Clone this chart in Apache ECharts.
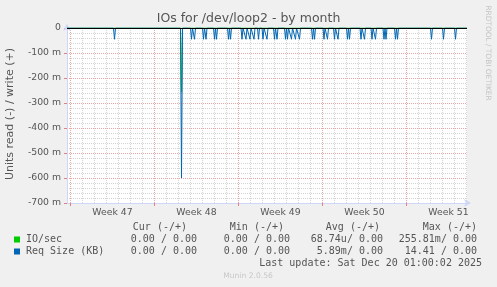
<!DOCTYPE html>
<html>
<head>
<meta charset="utf-8">
<script src="https://cdn.jsdelivr.net/npm/echarts@6/dist/echarts.min.js"></script>
<style>html,body{margin:0;padding:0;background:#f0f0f0;}#c{width:497px;height:287px;}</style>
</head>
<body>
<div id="c"></div>
<script>
// Time axis: hours since Mon 17 Nov 2025 00:00 (start of ISO week 47)
const xMinHour = -7;
const xMaxHour = 793;
const weekStartHours = [0, 168, 336, 504, 672];
const weekLabelHours = [84, 252, 420, 588, 756];
const weekLabels = ['Week 47', 'Week 48', 'Week 49', 'Week 50', 'Week 51'];
const dayHours = [0, 24, 48, 72, 96, 120, 144, 168, 192, 216, 240, 264, 288, 312, 336, 360, 384, 408, 432, 456, 480, 504, 528, 552, 576, 600, 624, 648, 672, 696, 720, 744, 768, 792];
const yTickValues = [0, -100, -200, -300, -400, -500, -600, -700];
const yTickLabels = ['0', '-100 m', '-200 m', '-300 m', '-400 m', '-500 m', '-600 m', '-700 m'];

// Req Size (KB), read side (negative), in milli-units, spikes at hours
const reqSizeSpikeHours = [88, 222, 242, 248, 266, 271, 288, 292, 316, 320, 343, 351, 359, 367, 376, 385, 393, 408, 413, 430, 434, 442, 450, 458, 484, 488, 507, 514, 528, 535, 554, 558, 581, 588, 603, 610, 627, 631, 650, 654, 722, 746, 770];
const reqSizeSpikeValues = [-45, -600, -45, -45, -45, -45, -45, -45, -45, -45, -45, -45, -45, -45, -45, -45, -45, -45, -45, -45, -45, -45, -45, -45, -45, -45, -45, -45, -45, -45, -45, -45, -45, -45, -45, -45, -45, -45, -45, -45, -45, -45, -45];
// IO/sec read side, milli-units
const ioSpikeHours = [222];
const ioSpikeValues = [-256];
const sampleStep = 2; // hours per sample

// legend table
const legendNames = ['IO/sec', 'Req Size (KB)'];
const legendColors = ['#00cc00', '#0066b3'];
const legendHeaders = ['Cur (-/+)', 'Min (-/+)', 'Avg (-/+)', 'Max (-/+)'];
const legendCur = ['0.00 / 0.00', '0.00 / 0.00'];
const legendMin = ['0.00 / 0.00', '0.00 / 0.00'];
const legendAvg = ['68.74u/ 0.00', '5.89m/ 0.00'];
const legendMax = ['255.81m/ 0.00', '14.41 / 0.00'];

function buildSeries(hours, values) {
  const pts = {};
  pts[xMinHour] = 0; pts[xMaxHour] = 0;
  hours.forEach((h, i) => {
    if (!(h - sampleStep in pts)) pts[h - sampleStep] = 0;
    if (!(h + sampleStep in pts)) pts[h + sampleStep] = 0;
  });
  hours.forEach((h, i) => { pts[h] = values[i]; });
  return Object.keys(pts).map(Number).sort((a, b) => a - b).map(k => [k, pts[k]]);
}

const chart = echarts.init(document.getElementById('c'), null, {renderer: 'canvas'});
const mono = 'DejaVu Sans Mono';
const sans = 'DejaVu Sans';
const txtColor = '#555';
const axisColor = '#cfd6f8';
const majorGrid = '#e8a8a8';
const minorGrid = '#d4d4d4';

const colRight = [197, 290, 383, 477];
const hdrRight = [187, 284, 380, 477];
const rowY = [239.5, 251.5];
const graphics = [];
legendHeaders.forEach((h, i) => graphics.push({type: 'text', x: hdrRight[i], y: 227, style: {text: h, font: '10px ' + mono, fill: txtColor, align: 'right', verticalAlign: 'middle'}}));
legendNames.forEach((n, r) => {
  graphics.push({type: 'rect', shape: {x: 14, y: rowY[r] - 3, width: 6, height: 6}, style: {fill: legendColors[r]}});
  graphics.push({type: 'text', x: 26, y: rowY[r], style: {text: n, font: '10px ' + mono, fill: txtColor, align: 'left', verticalAlign: 'middle'}});
  [legendCur, legendMin, legendAvg, legendMax].forEach((col, c) => {
    graphics.push({type: 'text', x: colRight[c], y: rowY[r], style: {text: col[r], font: '10px ' + mono, fill: txtColor, align: 'right', verticalAlign: 'middle'}});
  });
});
graphics.push({type: 'text', x: 482, y: 263.5, style: {text: 'Last update: Sat Dec 20 01:00:02 2025', font: '10px ' + mono, fill: txtColor, align: 'right', verticalAlign: 'middle'}});
graphics.push({type: 'text', x: 248, y: 276, style: {text: 'Munin 2.0.56', font: '7.6px ' + sans, fill: '#c8c8c8', align: 'center', verticalAlign: 'middle'}});
graphics.push({type: 'text', x: 248.5, y: 19, style: {text: 'IOs for /dev/loop2 - by month', font: '12.5px ' + sans, fill: '#555', align: 'center', verticalAlign: 'middle'}});
graphics.push({type: 'text', x: 10, y: 114, rotation: Math.PI / 2, style: {text: 'Units read (-) / write (+)', font: '11px ' + sans, fill: txtColor, align: 'center', verticalAlign: 'middle'}});
graphics.push({type: 'text', x: 487.5, y: 53, rotation: -Math.PI / 2, style: {text: 'RRDTOOL / TOBI OETIKER', font: '7.4px ' + sans, fill: '#c4c4c4', align: 'center', verticalAlign: 'middle'}});

const option = {
  animation: false,
  backgroundColor: '#f0f0f0',
  grid: {left: 67, top: 28, width: 400, height: 175, show: true, backgroundColor: '#ffffff', borderWidth: 0},
  xAxis: [
    {
      type: 'value', min: xMinHour, max: xMaxHour, position: 'top',
      axisLine: {show: false}, axisLabel: {show: false},
      axisTick: {show: false, customValues: dayHours},
      splitLine: {show: true, lineStyle: {color: minorGrid, type: 'dotted', width: 1}}
    },
    {
      type: 'value', min: xMinHour, max: xMaxHour, position: 'bottom',
      axisLine: {show: true, lineStyle: {color: axisColor, width: 1}, symbol: ['none', 'arrow'], symbolSize: [6, 7], symbolOffset: [0, 4]},
      axisTick: {show: true, customValues: weekStartHours, length: 3, lineStyle: {color: '#e08080'}},
      axisLabel: {show: true, customValues: weekLabelHours, margin: 5, color: txtColor, fontFamily: sans, fontSize: 9.3,
        formatter: v => weekLabels[weekLabelHours.indexOf(v)] || ''},
      splitLine: {show: true, lineStyle: {color: majorGrid, type: 'dotted', width: 1}}
    }
  ],
  yAxis: {
    type: 'value', min: -700, max: 0, interval: 100,
    axisLine: {show: true, onZero: false, lineStyle: {color: axisColor, width: 1}, symbol: ['none', 'arrow'], symbolSize: [6, 7], symbolOffset: [0, 4]},
    axisTick: {show: true, length: 3, lineStyle: {color: '#e08080'}},
    axisLabel: {color: txtColor, fontFamily: sans, fontSize: 9.3, margin: 6,
      formatter: v => yTickLabels[yTickValues.indexOf(Math.round(v))] || ''},
    splitLine: {show: true, lineStyle: {color: majorGrid, type: 'dotted', width: 1}},
    minorTick: {show: false, splitNumber: 5},
    minorSplitLine: {show: true, lineStyle: {color: minorGrid, type: 'dotted', width: 1}}
  },
  series: [
    {
      name: 'IO/sec', type: 'line', xAxisIndex: 1, showSymbol: false, symbol: 'none', z: 3,
      lineStyle: {color: legendColors[0], width: 1}, data: buildSeries(ioSpikeHours, ioSpikeValues)
    },
    {
      name: 'Req Size (KB)', type: 'line', xAxisIndex: 1, showSymbol: false, symbol: 'none', z: 4,
      lineStyle: {color: legendColors[1], width: 1}, data: buildSeries(reqSizeSpikeHours, reqSizeSpikeValues),
      markLine: {silent: true, symbol: 'none', label: {show: false}, lineStyle: {color: '#000', type: 'solid', width: 1}, data: [{yAxis: 0}]}
    }
  ],
  graphic: graphics
};
chart.setOption(option);
</script>
</body>
</html>
